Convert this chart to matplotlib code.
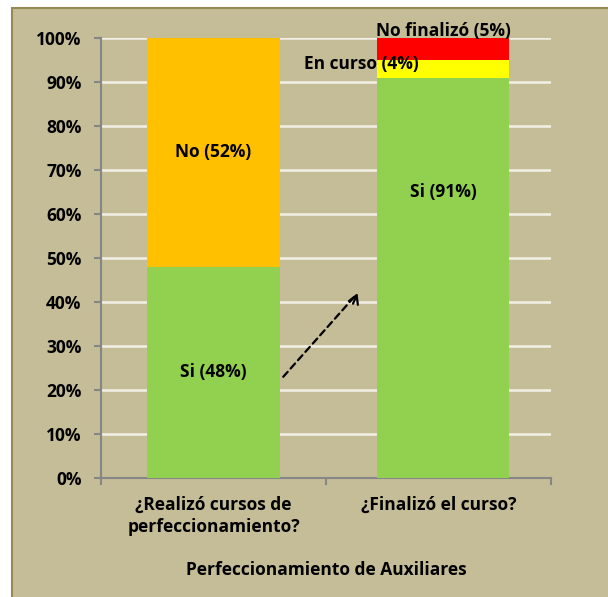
import matplotlib.pyplot as plt
from matplotlib.patches import Rectangle

plt.rcParams['font.family'] = ['Open Sans', 'DejaVu Sans']

categories = ['¿Realizó cursos de\nperfeccionamiento?', '¿Finalizó el curso?']
si = [48, 91]
en_curso = [0, 4]
no = [52, 5]
no_labels = ['No (52%)', 'No finalizó (5%)']
yticks = list(range(0, 101, 10))

GREEN = '#92D050'
ORANGE = '#FFC000'
YELLOW = '#FFFF00'
RED = '#FF0000'
TAN = '#C4BD97'
FS = 12.5

fig = plt.figure(figsize=(6.08, 5.97), dpi=100)
fig.patch.set_facecolor('white')

# tan panel behind the chart
fig.patches.append(Rectangle((12 / 608, -0.05), 1.0, 1 - 8 / 597 + 0.05,
                             transform=fig.transFigure, facecolor=TAN,
                             edgecolor='#948A54', lw=1.5, zorder=-10))
fig.text(12 / 608, 1 - 3 / 597, 'Gráfico 24', fontsize=14, fontweight='bold',
         va='bottom', ha='left')

ax = fig.add_axes([101 / 608, 1 - 478 / 597, 450 / 608, 440 / 597])
ax.set_facecolor('none')

x = [0, 1.02]
w = 0.59
ax.bar(x, si, w, color=GREEN, zorder=3)
ax.bar(x[1], en_curso[1], w, bottom=si[1], color=YELLOW, zorder=3)
ax.bar(x[0], no[0], w, bottom=si[0], color=ORANGE, zorder=3)
ax.bar(x[1], no[1], w, bottom=si[1] + en_curso[1], color=RED, zorder=3)

ax.set_xlim(-0.5, 1.5)
ax.set_ylim(0, 100)
ax.set_yticks(yticks)
ax.set_yticklabels([f'{v}%' for v in yticks])
ax.set_xticks([0, 1])
ax.set_xticklabels(categories)
ax.set_xticks([-0.5, 0.5, 1.5], minor=True)
ax.tick_params(axis='x', which='major', length=0, pad=13)
ax.tick_params(axis='x', which='minor', length=5, width=1.5, color='#868686')
ax.tick_params(axis='y', length=5, width=1.5, color='#868686', pad=9)
for lab in ax.get_xticklabels() + ax.get_yticklabels():
    lab.set_fontweight('bold')
    lab.set_fontsize(FS)
for lab in ax.get_xticklabels():
    lab.set_linespacing(1.25)

ax.grid(axis='y', color='#F2F0E6', lw=1.8, zorder=1)
for s in ['top', 'right']:
    ax.spines[s].set_visible(False)
for s in ['left', 'bottom']:
    ax.spines[s].set_color('#868686')
    ax.spines[s].set_linewidth(1.5)

ax.set_xlabel('Perfeccionamiento de Auxiliares', fontsize=FS,
              fontweight='bold', labelpad=18)

lbl = dict(fontsize=FS, fontweight='bold', zorder=5)
ax.text(x[0], si[0] / 2, 'Si (48%)', ha='center', va='center', **lbl)
ax.text(x[0], si[0] + no[0] / 2, no_labels[0], ha='center', va='center', **lbl)
ax.text(x[1], 65, 'Si (91%)', ha='center', va='center', **lbl)
ax.text(0.91, 94, 'En curso (4%)', ha='right', va='center', **lbl)
ax.text(x[1], 101.6, no_labels[1], ha='center', va='center', **lbl)

# dashed arrow
start, end = (0.31, 23), (0.64, 42)
ax.annotate('', xy=end, xytext=start,
            arrowprops=dict(arrowstyle='-', ls=(0, (3, 2)), lw=1.6, color='black',
                            shrinkA=0, shrinkB=1))
ax.annotate('', xy=end, xytext=(end[0] - 0.02, end[1] - 2.4),
            arrowprops=dict(arrowstyle='->,head_length=0.6,head_width=0.35',
                            lw=1.6, color='black', shrinkA=0, shrinkB=0))

fig.savefig('out.png', dpi=100, facecolor=fig.get_facecolor())
